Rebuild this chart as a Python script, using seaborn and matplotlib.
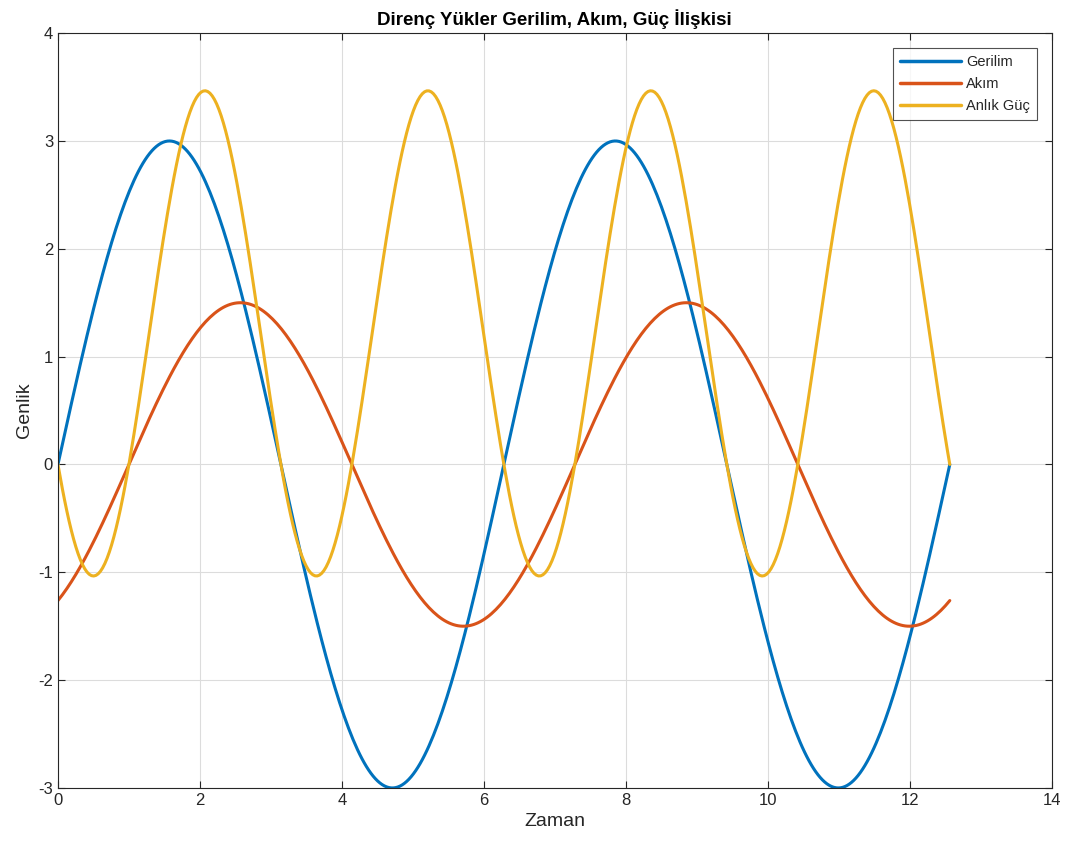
import numpy as np
import pandas as pd
import matplotlib
matplotlib.use("Agg")
import matplotlib.pyplot as plt
import seaborn as sns

# Values (sinusoids over 0..4*pi)
t_end = 4 * np.pi
n_points = 400
voltage_amp = 3.0        # Gerilim peak
current_amp = 1.5        # Akım peak
current_phase = 1.0      # rad, current lags voltage
series_names = ["Gerilim", "Akım", "Anlık Güç"]
series_colors = ["#0072BD", "#D95319", "#EDB120"]
x_ticks = list(range(0, 15, 2))
y_ticks = list(range(-3, 5))

t = np.linspace(0, t_end, n_points)
v = voltage_amp * np.sin(t)
i = current_amp * np.sin(t - current_phase)
p = v * i

df = pd.concat([
    pd.DataFrame({"Zaman": t, "Genlik": v, "Seri": series_names[0]}),
    pd.DataFrame({"Zaman": t, "Genlik": i, "Seri": series_names[1]}),
    pd.DataFrame({"Zaman": t, "Genlik": p, "Seri": series_names[2]}),
])

sns.set_style("white")
plt.rcParams["font.family"] = ["Liberation Sans", "DejaVu Sans"]
plt.rcParams["axes.unicode_minus"] = False

fig = plt.figure(figsize=(10.73, 8.5), dpi=100)
ax = fig.add_axes([0.054, 0.073, 0.926, 0.888])

sns.lineplot(data=df, x="Zaman", y="Genlik", hue="Seri", palette=series_colors,
             hue_order=series_names, linewidth=2.2, ax=ax, sort=False, estimator=None)

ax.set_xlim(0, 14)
ax.set_ylim(-3, 4)
ax.set_xticks(x_ticks)
ax.set_yticks(y_ticks)
ax.grid(True, color="#dcdcdc", linewidth=0.8)
ax.set_axisbelow(True)
for s in ax.spines.values():
    s.set_color("#262626")
    s.set_linewidth(0.8)
ax.tick_params(direction="in", length=5, width=0.8, colors="#262626",
               labelsize=12, top=True, right=True, bottom=True, left=True,
               labeltop=False, labelright=False)
ax.set_xlabel("Zaman", fontsize=14, color="#262626")
ax.set_ylabel("Genlik", fontsize=14, color="#262626")
ax.set_title("Direnç Yükler Gerilim, Akım, Güç İlişkisi", fontsize=13.5,
             fontweight="bold", color="#000000", pad=6)

leg = ax.legend(loc="upper right", fontsize=10.5, frameon=True, fancybox=False,
                edgecolor="#262626", handlelength=4.2, borderaxespad=1.0,
                handletextpad=0.3, labelspacing=0.55, borderpad=0.5)
leg.get_frame().set_linewidth(0.8)
for line in leg.get_lines():
    line.set_linewidth(2.5)

fig.savefig("out.png", dpi=100, facecolor="white")
